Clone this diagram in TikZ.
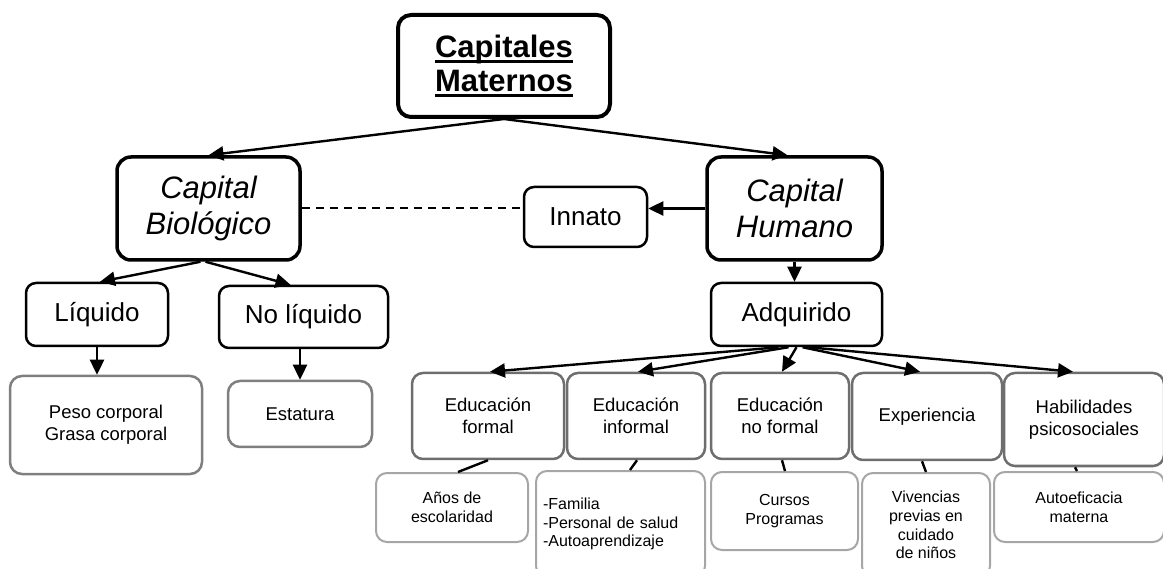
\documentclass[tikz,border=0pt]{standalone}
\usepackage{fontspec}
\setmainfont{Liberation Sans}
\usetikzlibrary{arrows.meta}
\newcommand\myul[1]{\leavevmode\setbox0\hbox{#1}\rlap{\rule[-5pt]{\wd0}{2.6pt}}\box0}
\definecolor{grayA}{HTML}{6E6E6E}
\definecolor{grayB}{HTML}{7F7F7F}
\definecolor{grayC}{HTML}{A6A6A6}
\tikzset{
  topbox/.style={draw=black, line width=4pt, rounded corners=13pt, inner sep=0pt, align=center, font=\fontsize{31}{34}\selectfont\bfseries},
  capbox/.style={draw=black, line width=3.5pt, rounded corners=14pt, inner sep=0pt, align=center, font=\fontsize{31}{36}\selectfont\itshape},
  midbox/.style={draw=black, line width=2.5pt, rounded corners=10pt, inner sep=0pt, align=center, font=\fontsize{26}{30}\selectfont},
  edbox/.style={draw=grayA, line width=2.5pt, rounded corners=11pt, inner sep=0pt, align=center, font=\fontsize{18.5}{22}\selectfont},
  bbox/.style={draw=grayB, line width=2.5pt, rounded corners=12pt, inner sep=0pt, align=center, font=\fontsize{18.5}{22}\selectfont},
  subbox/.style={draw=grayC, line width=2pt, rounded corners=11pt, inner sep=0pt, align=center, font=\fontsize{16}{18.7}\selectfont},
  arr/.style={line width=2.4pt, -{Triangle[length=15pt,width=14pt]}},
  ln/.style={line width=2.4pt},
  dln/.style={line width=2pt, dash pattern=on 8pt off 6pt},
}
\begin{document}
\begin{tikzpicture}[x=1pt,y=-1pt]
\useasboundingbox (0,0) rectangle (1163,569);
\clip (0,0) rectangle (1163,569);
% level 0
\node[topbox, minimum width=212pt, minimum height=102pt] (title) at (504,66) {\myul{Capitales}\\\myul{Maternos}};
% level 1
\node[capbox, minimum width=183pt, minimum height=103pt] (cb) at (208.5,208.5) {Capital\\Biológico};
\node[capbox, minimum width=175pt, minimum height=103pt] (ch) at (794.5,208.5) {Capital\\Humano};
\node[midbox, minimum width=123pt, minimum height=60pt] (inn) at (585.5,217) {Innato};
\node[midbox, minimum width=171pt, minimum height=63pt] (adq) at (796.5,314.5) {Adquirido};
\node[midbox, minimum width=142pt, minimum height=63pt] (liq) at (97,314.5) {Líquido};
\node[midbox, minimum width=169pt, minimum height=62pt] (nl) at (303.5,317) {No líquido};
% biological leaves
\node[bbox, minimum width=192pt, minimum height=98pt] (peso) at (106,425) {Peso corporal\\Grasa corporal};
\node[bbox, minimum width=144pt, minimum height=66pt] (est) at (300,414) {Estatura};
% human capital categories
\node[edbox, minimum width=152pt, minimum height=86pt] (ef) at (488,416) {Educación\\formal};
\node[edbox, minimum width=138pt, minimum height=86pt] (ei) at (636,416) {Educación\\informal};
\node[edbox, minimum width=138pt, minimum height=86pt] (en) at (780,416) {Educación\\no formal};
\node[edbox, minimum width=150pt, minimum height=87pt] (ex) at (927,416.5) {Experiencia};
\node[edbox, minimum width=160pt, minimum height=93pt] (hb) at (1084,419.5) {Habilidades\\psicosociales};
% sub boxes
\node[subbox, minimum width=152pt, minimum height=69pt] (ay) at (452,507.5) {Años de\\escolaridad};
\node[subbox, minimum width=169pt, minimum height=106pt, align=left, text width=155pt] (fam) at (620.5,524) {-Familia\\-Personal de salud\\-Autoaprendizaje};
\node[subbox, minimum width=147pt, minimum height=78pt] (cu) at (784.5,511) {Cursos\\Programas};
\node[subbox, minimum width=128pt, minimum height=104pt] (vi) at (926,525) {Vivencias\\previas en\\cuidado\\de niños};
\node[subbox, minimum width=170pt, minimum height=70pt] (au) at (1079,507) {Autoeficacia\\materna};
% connectors
\draw[arr] (title.south) -- (cb.north);
\draw[arr] (title.south) -- ([xshift=-7pt]ch.north);
\draw[arr] ([xshift=-8pt]cb.south) -- ([xshift=3pt]liq.north);
\draw[arr] ([xshift=-3pt]cb.south) -- ([xshift=-13pt]nl.north);
\draw[arr] (liq.south) -- (liq.south |- peso.north);
\draw[arr] (est.north |- nl.south) -- (est.north);
\draw[dln] (cb.east) -- (cb.east -| inn.west);
\draw[arr] (ch.west) -- (inn.east |- ch.west);
\draw[arr] (ch.south) -- (ch.south |- adq.north);
\draw[arr] ([xshift=-18pt]adq.south) -- ([xshift=2pt]ef.north);
\draw[arr] ([xshift=-8pt]adq.south) -- ([xshift=2pt]ei.north);
\draw[arr] ([xshift=0pt]adq.south) -- ([xshift=2pt]en.north);
\draw[arr] ([xshift=6pt]adq.south) -- ([xshift=-7pt]ex.north);
\draw[arr] ([xshift=12pt]adq.south) -- ([xshift=-11pt]hb.north);
\draw[ln] (ef.south) -- ([xshift=6pt]ay.north);
\draw[ln] ([xshift=1pt]ei.south) -- ([xshift=9.5pt]fam.north);
\draw[ln] ([xshift=2pt]en.south) -- ([xshift=0.5pt]cu.north);
\draw[ln] ([xshift=-5pt]ex.south) -- (vi.north);
\draw[ln] ([xshift=-9pt]hb.south) -- ([xshift=-2pt]au.north);
\end{tikzpicture}
\end{document}
